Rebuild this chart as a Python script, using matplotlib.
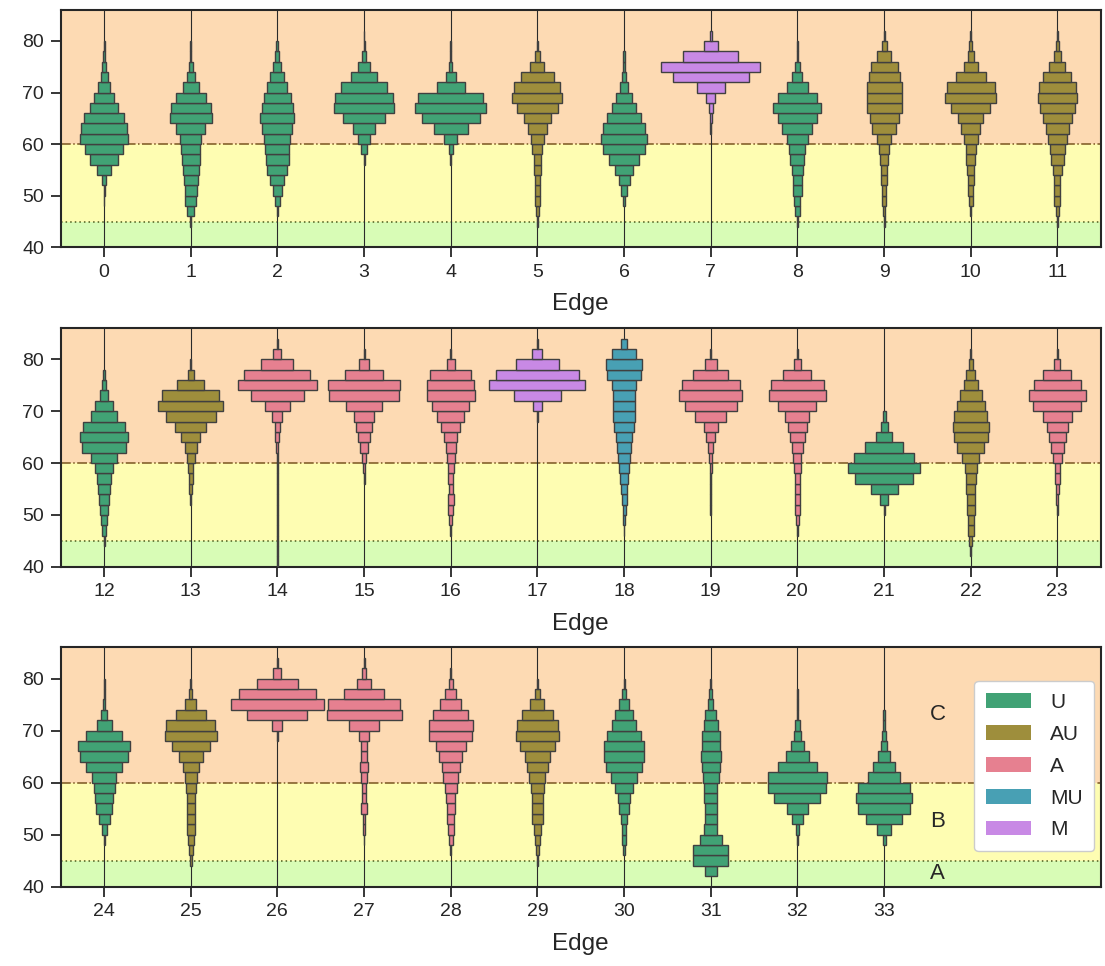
import numpy as np
import matplotlib
matplotlib.use("Agg")
import matplotlib.pyplot as plt
import seaborn as sns
from matplotlib.patches import Patch

# ---------------- data ----------------
# bin edges of the score histograms (2-point bins)
BIN_EDGES = [40, 42, 44, 46, 48, 50, 52, 54, 56, 58, 60, 62, 64, 66, 68, 70,
             72, 74, 76, 78, 80, 82, 84, 86]

# relative frequencies per bin (bottom 40-42 ... top 84-86), one list per edge
E00 = [0,0,0,0,2,3,12,41,82,117,143,137,118,84,58,38,21,12,4,3,0,0,0]
E01 = [0,0,3,20,33,37,43,49,54,56,62,86,127,121,90,49,25,13,4,2,0,0,0]
E02 = [0,0,0,3,13,26,42,61,68,73,78,90,102,95,80,60,42,24,12,6,0,0,0]
E03 = [0,0,0,0,0,0,0,0,3,16,35,64,124,178,175,136,78,36,13,3,2,0,0]
E04 = [0,0,0,0,0,0,0,0,3,13,39,101,173,213,195,83,31,9,3,3,0,0,0]
E05 = [0,0,3,9,14,14,16,20,22,30,38,57,81,123,150,139,100,42,14,3,0,0,0]
E06 = [0,0,0,0,4,19,33,55,93,127,139,127,103,73,50,25,14,8,4,0,0,0,0]
E07 = [0,0,0,0,0,0,0,0,0,0,0,3,7,12,26,83,227,296,162,41,6,0,0]
E08 = [0,0,3,16,18,28,29,35,42,48,64,91,119,145,119,63,30,16,5,3,0,0,0]
E09 = [0,0,3,7,13,13,18,20,22,28,42,70,88,106,106,106,94,82,44,15,3,0,0]
E10 = [0,0,0,4,12,14,18,20,27,31,43,57,77,119,156,145,91,42,18,8,2,0,0]
E11 = [0,0,3,8,18,18,18,25,37,43,55,68,86,105,116,110,84,48,20,8,3,0,0]
E12 = [0,0,3,10,16,22,30,34,43,52,75,132,142,126,80,56,26,14,5,0,0,0,0]
E13 = [0,0,0,0,0,0,3,9,13,16,25,37,57,91,149,195,172,79,19,3,0,0,0]
E14 = [1,1,1,1,1,1,1,1,2,2,3,6,12,16,29,75,156,236,196,96,24,4,0]
E15 = [0,0,0,0,0,0,0,0,3,8,14,22,35,45,57,107,209,215,115,27,3,0,0]
E16 = [0,0,0,3,10,15,19,13,15,17,25,30,39,57,81,111,144,140,124,24,4,0,0]
E17 = [0,0,0,0,0,0,0,0,0,0,0,0,0,0,3,27,139,283,243,127,29,4,0]
E18 = [0,0,0,2,7,9,15,19,25,29,33,42,50,58,67,67,67,73,100,109,70,18,0]
E19 = [0,0,0,0,0,3,3,3,4,6,9,15,26,42,90,154,187,171,103,36,4,0,0]
E20 = [0,0,0,2,8,14,15,15,15,19,24,34,46,58,72,115,172,162,85,21,3,0,0]
E21 = [0,0,0,0,0,3,25,81,172,219,180,113,49,21,9,0,0,0,0,0,0,0,0]
E22 = [0,2,10,19,19,23,25,29,31,37,53,82,103,109,98,85,67,43,27,13,3,0,0]
E23 = [0,0,0,0,0,3,6,8,14,14,26,37,50,62,86,144,172,140,84,18,3,0,0]
E24 = [0,0,0,0,3,15,33,47,54,63,70,105,146,153,108,45,16,5,3,3,0,0,0]
E25 = [0,0,7,13,19,24,23,23,25,29,35,49,71,115,155,146,90,33,10,3,0,0,0]
E26 = [0,0,0,0,0,0,0,0,0,0,0,0,0,0,3,29,177,273,228,120,24,3,0]
E27 = [0,0,0,0,2,4,8,18,14,14,16,21,17,19,31,89,221,210,117,40,12,3,0]
E28 = [0,0,0,4,11,18,20,24,27,35,44,53,69,89,127,131,104,62,32,11,3,0,0]
E29 = [0,0,2,8,16,21,32,32,32,37,48,62,74,102,128,120,91,42,13,3,0,0,0]
E30 = [0,0,0,8,10,13,19,31,38,53,79,105,119,117,99,73,55,31,13,3,0,0,0]
E31 = [0,36,104,104,65,40,36,36,40,40,47,54,59,54,54,43,33,15,8,3,0,0,0]
E32 = [0,0,0,0,3,10,34,64,139,174,179,118,70,40,23,13,3,2,2,0,0,0,0]
E33 = [0,0,0,0,9,41,107,153,165,152,97,63,33,19,13,8,4,0,0,0,0,0,0]

EDGE_FREQS = [E00, E01, E02, E03, E04, E05, E06, E07, E08, E09, E10, E11,
              E12, E13, E14, E15, E16, E17, E18, E19, E20, E21, E22, E23,
              E24, E25, E26, E27, E28, E29, E30, E31, E32, E33]

EDGE_CLASS = ["U", "U", "U", "U", "U", "AU", "U", "M", "U", "AU", "AU", "AU",
              "U", "AU", "A", "A", "A", "M", "MU", "A", "A", "U", "AU", "A",
              "U", "AU", "A", "A", "A", "AU", "U", "U", "U", "U"]

CLASSES = ["U", "AU", "A", "MU", "M"]
ZONE_LABELS = ["A", "B", "C"]
ZONE_BOUNDS = [40, 45, 60, 86]

# ---------------- style ----------------
sns.set_theme(style="ticks")
plt.rcParams["font.family"] = ["Liberation Sans", "DejaVu Sans"]

CLASS_COLORS = {"U": "#41a275", "AU": "#9e8e3c", "A": "#e68090",
                "MU": "#48a0b4", "M": "#c889e5"}
ZONE_COLORS = ["#d8fcb6", "#fefdb2", "#fddab3"]

W, H = 1105, 966
fig = plt.figure(figsize=(W / 100, H / 100), dpi=100)

panel_px = [(10.0, 247.3), (328.3, 566.7), (647.3, 886.7)]
left_px, right_px = 60.7, 1100.7
per_row = 12
width_scale = 3.35

bins = np.array(BIN_EDGES, dtype=float)
bin_h = np.diff(bins)

axes = []
for r, (top, bot) in enumerate(panel_px):
    ax = fig.add_axes([left_px / W, 1 - bot / H, (right_px - left_px) / W,
                       (bot - top) / H])
    axes.append(ax)
    x0 = r * per_row
    # zones
    for z in range(3):
        ax.axhspan(ZONE_BOUNDS[z], ZONE_BOUNDS[z + 1], color=ZONE_COLORS[z],
                   lw=0, zorder=0)
    ax.axhline(45, color="#4d5a1c", lw=1.1, ls=(0, (1, 2)), zorder=1)
    ax.axhline(60, color="#7a5520", lw=1.1, ls="-.", zorder=1)

    idx = [i for i in range(len(EDGE_FREQS)) if x0 <= i < x0 + per_row]
    for i in idx:
        f = np.array(EDGE_FREQS[i], dtype=float)
        share = f / f.sum()
        widths = share * width_scale
        ax.plot([i, i], [bins[0], bins[-1]], color="#2a2a2a", lw=0.8,
                zorder=2)
        m = widths > 0
        ax.bar(np.full(m.sum(), i), bin_h[m], width=widths[m],
               bottom=bins[:-1][m], align="center",
               color=CLASS_COLORS[EDGE_CLASS[i]], edgecolor="#404040",
               linewidth=1.0, zorder=3)

    ax.set_xlim(x0 - 0.5, x0 + per_row - 0.5)
    ax.set_ylim(40, 86)
    ax.set_xticks(idx)
    ax.set_xticklabels([str(i) for i in idx])
    ax.set_yticks([40, 50, 60, 70, 80])
    ax.tick_params(labelsize=14, length=7.5, width=1.3, pad=4.5,
                   colors="#262626")
    for s in ax.spines.values():
        s.set_linewidth(1.5)
        s.set_color("#262626")
    ax.set_xlabel("Edge", fontsize=17.5, labelpad=9)

ax = axes[-1]
xt = 33.62
for z in range(3):
    ax.text(xt, (ZONE_BOUNDS[z] + ZONE_BOUNDS[z + 1]) / 2, ZONE_LABELS[z],
            ha="center", va="center", fontsize=16, color="#262626", zorder=4)

handles = [Patch(facecolor=CLASS_COLORS[c], edgecolor="none", label=c)
           for c in CLASSES]
leg = ax.legend(handles=handles, loc="upper right",
                bbox_to_anchor=(0.994, 0.858), borderaxespad=0,
                fontsize=15, handlelength=2.15, handleheight=0.7,
                handletextpad=0.95, labelspacing=0.62, borderpad=0.55,
                frameon=True, fancybox=True, framealpha=1)
leg.get_frame().set_edgecolor("#cccccc")
leg.set_zorder(5)

fig.savefig("out.png", dpi=100)
